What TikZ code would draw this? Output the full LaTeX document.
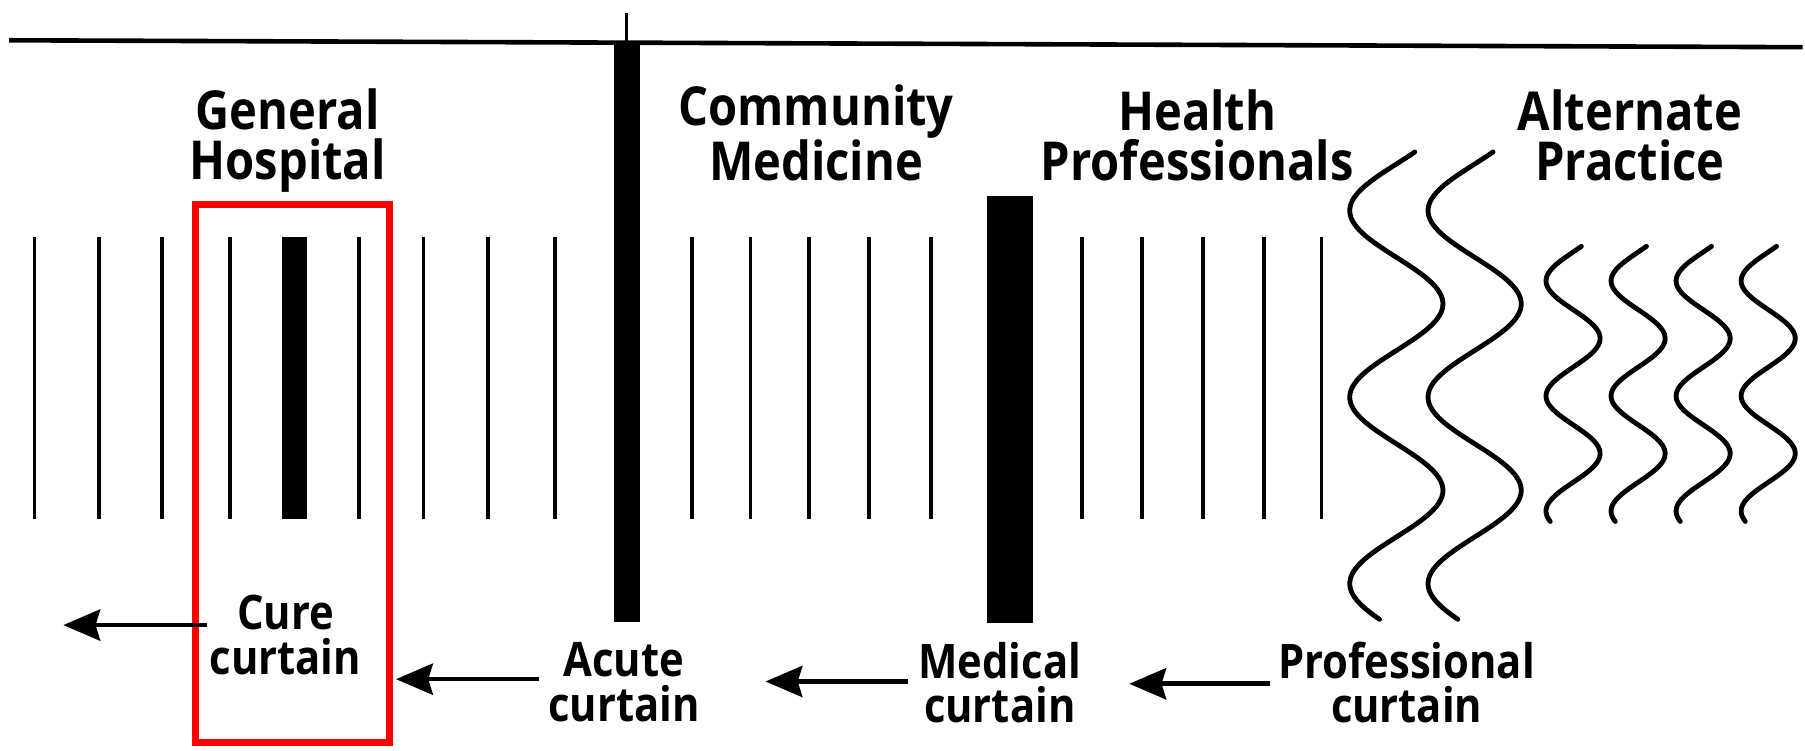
\documentclass[tikz,border=0pt]{standalone}
\usepackage{fontspec}
\newfontfamily\lblfont{Open Sans}
\usetikzlibrary{arrows.meta}
\begin{document}
\begin{tikzpicture}[x=1pt,y=-1pt,
  thinline/.style={line width=3.2pt},
  wave/.style={line width=4.2pt, line cap=round},
  toplabel/.style={font=\fontsize{44}{41}\selectfont\lblfont\bfseries, align=center, inner sep=0pt, anchor=base, yscale=1.06, xscale=0.93},
  botlabel/.style={font=\fontsize{39}{36.8}\selectfont\lblfont\bfseries, align=center, inner sep=0pt, anchor=base, yscale=1.06, xscale=0.93},
  curtarrow/.style={-{Stealth[length=32pt,width=27pt,inset=4pt]}, line width=4pt},
  redbox/.style={draw=red, line width=6pt, inner sep=0pt}
]
\useasboundingbox (0,0) rectangle (1568,652);

% top line and tick
\draw[line width=4pt] (8,35) -- (1566,41);
\draw[line width=3pt] (544,11.5) -- (544,36);

% bars
\fill (533,37) rectangle (556,540);
\fill (857,170) rectangle (897,541);
\fill (245,206) rectangle (267,451);

% thin lines
\foreach \xx in {30,86,141,200,312,368,424,482,601,652,703,755,809,940,992,1045,1098,1148}
  \draw[thinline] (\xx,206) -- (\xx,451);

% big waves
\foreach \cc in {1213,1281}
  \draw[wave] plot[domain=132:538, samples=150, smooth] ({\cc-40.5*cos((\x-183)*2.2222)}, \x);
% small waves
\foreach \cc in {1366.5,1423,1479.5,1536}
  \draw[wave] plot[domain=214:453, samples=120, smooth] ({\cc-23.5*cos((\x-244)*3.6)}, \x);

% red box
\node[redbox, minimum width=168pt, minimum height=467pt] (box) at (254,411.5) {};

% top labels (base = baseline of last line)
\node[toplabel] (gh) at (250,156) {General\\Hospital};
\node[toplabel] (cm) at (709,157) {Community\\Medicine};
\node[toplabel] (hp) at (1040,157) {Health\\Professionals};
\node[toplabel] (ap) at (1416,157) {Alternate\\Practice};

% bottom labels
\node[botlabel] (cure) at (248,586) {Cure\\curtain};
\node[botlabel] (acute) at (542,626.5) {Acute\\curtain};
\node[botlabel] (medical) at (868.5,628) {Medical\\curtain};
\node[botlabel] (prof) at (1222,628) {Professional\\curtain};

% arrow ends
\coordinate (cureT) at (180,543);
\coordinate (cureH) at (55,543);
\coordinate (acuteT) at (468.5,590);
\coordinate (acuteH) at (344,590);
\coordinate (medT) at (789,592);
\coordinate (medH) at (665,592);
\coordinate (profT) at (1103,594);
\coordinate (profH) at (981,594);

\draw[curtarrow] (cureT) -- (cureH);
\draw[curtarrow] (acuteT) -- (acuteH);
\draw[curtarrow] (medT) -- (medH);
\draw[curtarrow] (profT) -- (profH);
\end{tikzpicture}
\end{document}
